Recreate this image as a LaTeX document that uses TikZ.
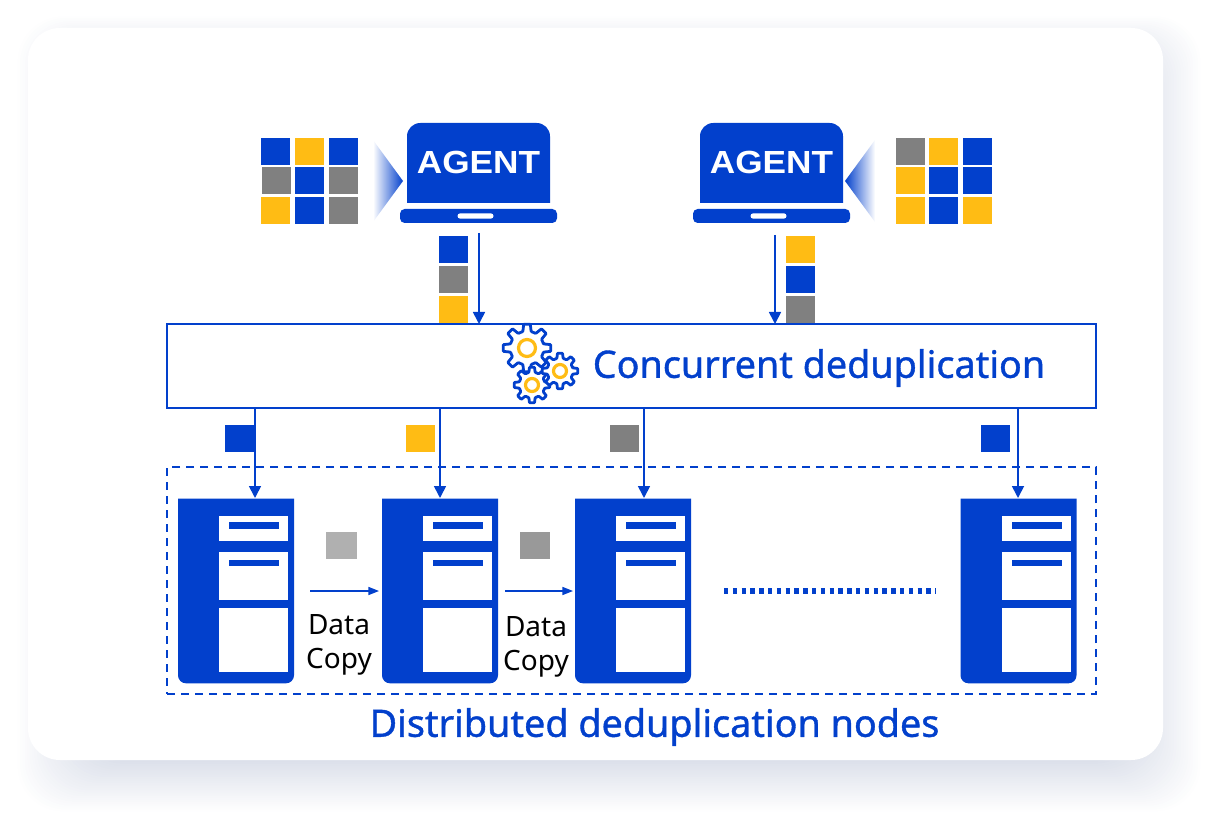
\documentclass[tikz,border=0pt]{standalone}
\usepackage{fontspec}
\setmainfont{Noto Sans}
\newfontfamily\labelfont[FakeBold = 1]{Noto Sans}
\newfontfamily\agentfont{Liberation Sans}
\usetikzlibrary{arrows.meta}
\definecolor{myBlue}{HTML}{0240CC}
\definecolor{myYellow}{HTML}{FFBC14}
\definecolor{myGray}{HTML}{808080}
\definecolor{myShadow}{HTML}{5A6E9E}
\tikzset{
	sq/.style = {fill = #1, inner sep = 0, outer sep = 0, minimum width = 21.75pt, minimum height = 20.25pt},
	arr/.style = {myBlue, line width = 1.3pt, -{Triangle[length = 9pt, width = 9pt]}},
	copyarr/.style = {myBlue, line width = 1.2pt, -{Triangle[length = 8pt, width = 6pt]}},
	srvbox/.style = {inner sep = 0, outer sep = 0, minimum width = 87pt, minimum height = 138.5pt},
	lapbody/.style = {inner sep = 0, text = white, font = \agentfont\fontsize{24}{24}\selectfont\bfseries, xscale = 1.1},
	label/.style = {text = myBlue, font = \labelfont\fontsize{28.3}{28.3}\selectfont},
	copytext/.style = {align = center, font = \fontsize{21}{26}\selectfont},
	pics/gear/.style args = {#1/#2}{code = {
		\draw [myBlue, fill = white, line width = 2.1pt, rounded corners = 0.6pt] (-14:#2)
			\foreach \i in {0, ..., 7} { -- (\i*45-14:#2) -- (\i*45-8:#1) -- (\i*45+8:#1) -- (\i*45+14:#2) } -- cycle;
		\draw [myYellow, line width = 2.4pt] (0, 0) circle (#2*0.5);
	}}
}

\begin{document}
\begin{tikzpicture}[x = 0.75pt, y = -0.75pt]
		\useasboundingbox (0, 0) rectangle (1217, 823);
		%%%%%%%%%%%%% panel and its shadow
		\foreach \i in {0, ..., 26} {
			\fill [myShadow, opacity = 0.0085, rounded corners = 34pt] (80-2.4*\i, 58-\i*1.6) rectangle (1138+2.4*\i, 762+1.9*\i);
		}
		\fill [white, rounded corners = 24pt] (28, 28) rectangle (1163, 760);
		%%%%%%%%%%%%% agents
		\foreach \name/\xx in {lap1/407, lap2/700} {
			\fill [myBlue, rounded corners = 10pt] (\xx, 203) [sharp corners] -- (\xx, 123+14) [rounded corners = 10pt] -- (\xx, 123) -- (\xx+143, 123) [sharp corners] -- (\xx+143, 137) -- (\xx+143, 203) -- cycle;
			\node [lapbody] (\name) at (\xx+71.5, 162) {AGENT};
			\node [fill = myBlue, inner sep = 0, outer sep = 0, rounded corners = 3.5pt, minimum width = 117.75pt, minimum height = 10.5pt] (\name b) at (\xx+71.5, 216) {};
			\node [fill = white, inner sep = 0, rounded corners = 2pt, minimum width = 27pt, minimum height = 4pt] (\name s) at (\xx+68.5, 216) {};
		}
		\shade [left color = white, right color = myBlue] (373, 140) -- (403, 181) -- (373, 222) -- cycle;
		\shade [right color = white, left color = myBlue] (875, 140) -- (845, 181) -- (875, 222) -- cycle;
		%%%%%%%%%%%%% data blocks
		\foreach \name/\xx/\yy/\col in {
			a1/275.5/151.5/myBlue, a2/309/151.5/myYellow, a3/343/151.5/myBlue,
			a4/276/181/myGray, a5/309/181/myBlue, a6/343/181/myGray,
			a7/275.5/211/myYellow, a8/309/211/myBlue, a9/343/211/myGray,
			b1/910/151.5/myGray, b2/943/151.5/myYellow, b3/977/151.5/myBlue,
			b4/910/181/myYellow, b5/943/181/myBlue, b6/977/181/myBlue,
			b7/910/211/myYellow, b8/943/211/myBlue, b9/977/211/myYellow,
			s1/453.5/250/myBlue, s2/453.5/280/myGray, s3/453.5/310/myYellow,
			t1/800.5/250/myYellow, t2/800.5/280/myBlue, t3/800.5/310/myGray,
			u1/239.5/438.5/myBlue, u2/420.5/438.5/myYellow, u3/624.5/438.5/myGray, u4/995.5/438.5/myBlue} {
			\node [sq = \col] (\name) at (\xx, \yy) {};
		}
		\node [sq = black!31, minimum width = 23pt] (c1) at (341.5, 545.5) {};
		\node [sq = black!40, minimum width = 23pt] (c2) at (535, 545.5) {};
		%%%%%%%%%%%%% dedup box
		\node [draw = myBlue, line width = 1.5pt, inner sep = 0, outer sep = 0, minimum width = 696.75pt, minimum height = 63pt] (conc) at (631.5, 366) {};
		\node [label] (conclabel) at (819, 368) {Concurrent deduplication};
		\pic at (527, 348) {gear = {24/17}};
		\pic at (532, 385) {gear = {18/13}};
		\pic at (560, 371) {gear = {18/13}};
		\coordinate (out1) at (479, 233);
		\coordinate (out2) at (775, 235);
		\draw [arr] (out1) to (out1 |- conc.north);
		\draw [arr] (out2) to (out2 |- conc.north);
		%%%%%%%%%%%%% storage nodes
		\node [draw = myBlue, dashed, dash pattern = on 6pt off 4.5pt, line width = 1.5pt, inner sep = 0, outer sep = 0, minimum width = 696.75pt, minimum height = 170.25pt] (dist) at (631.5, 580.5) {};
		\foreach \name/\xx/\yy in {srv1/236/591, srv2/440/591, srv3/633/591, srv4/1018.5/591} {
			\node [srvbox] (\name) at (\xx, \yy) {};
			\fill [myBlue] (\name.north west) [rounded corners = 6pt] -- (\name.south west) -- (\name.south east) [sharp corners] -- (\name.north east) -- cycle;
			\fill [white] ([shift = {(41, 17)}] \name.north west) rectangle ([shift = {(110, 42)}] \name.north west);
			\fill [white] ([shift = {(41, 53)}] \name.north west) rectangle ([shift = {(110, 101)}] \name.north west);
			\fill [white] ([shift = {(41, 109)}] \name.north west) rectangle ([shift = {(110, 173)}] \name.north west);
			\fill [myBlue] ([shift = {(51, 23)}] \name.north west) rectangle ([shift = {(101, 30)}] \name.north west);
			\fill [myBlue] ([shift = {(51, 61)}] \name.north west) rectangle ([shift = {(101, 67)}] \name.north west);
		}
		\foreach \i/\xx in {1/255, 2/440, 3/644, 4/1018} {
			\coordinate (in\i) at (\xx, 498);
			\draw [arr] (in\i |- conc.south) to (in\i);
		}
		\coordinate (cp1a) at (310, 591); \coordinate (cp1b) at (379, 591);
		\coordinate (cp2a) at (505, 591); \coordinate (cp2b) at (573, 591);
		\draw [copyarr] (cp1a) to (cp1b);
		\draw [copyarr] (cp2a) to (cp2b);
		\node [copytext] (copy1) at (339, 645) {Data\\Copy};
		\node [copytext] (copy2) at (536, 647) {Data\\Copy};
		\coordinate (dot1) at (724, 591); \coordinate (dot2) at (936, 591);
		\draw [myBlue, line width = 4.2pt, dash pattern = on 3.3pt off 3.3pt] (dot1) to (dot2);
		\node [label] (distlabel) at (654.5, 727) {Distributed deduplication nodes};
\end{tikzpicture}
\end{document}
